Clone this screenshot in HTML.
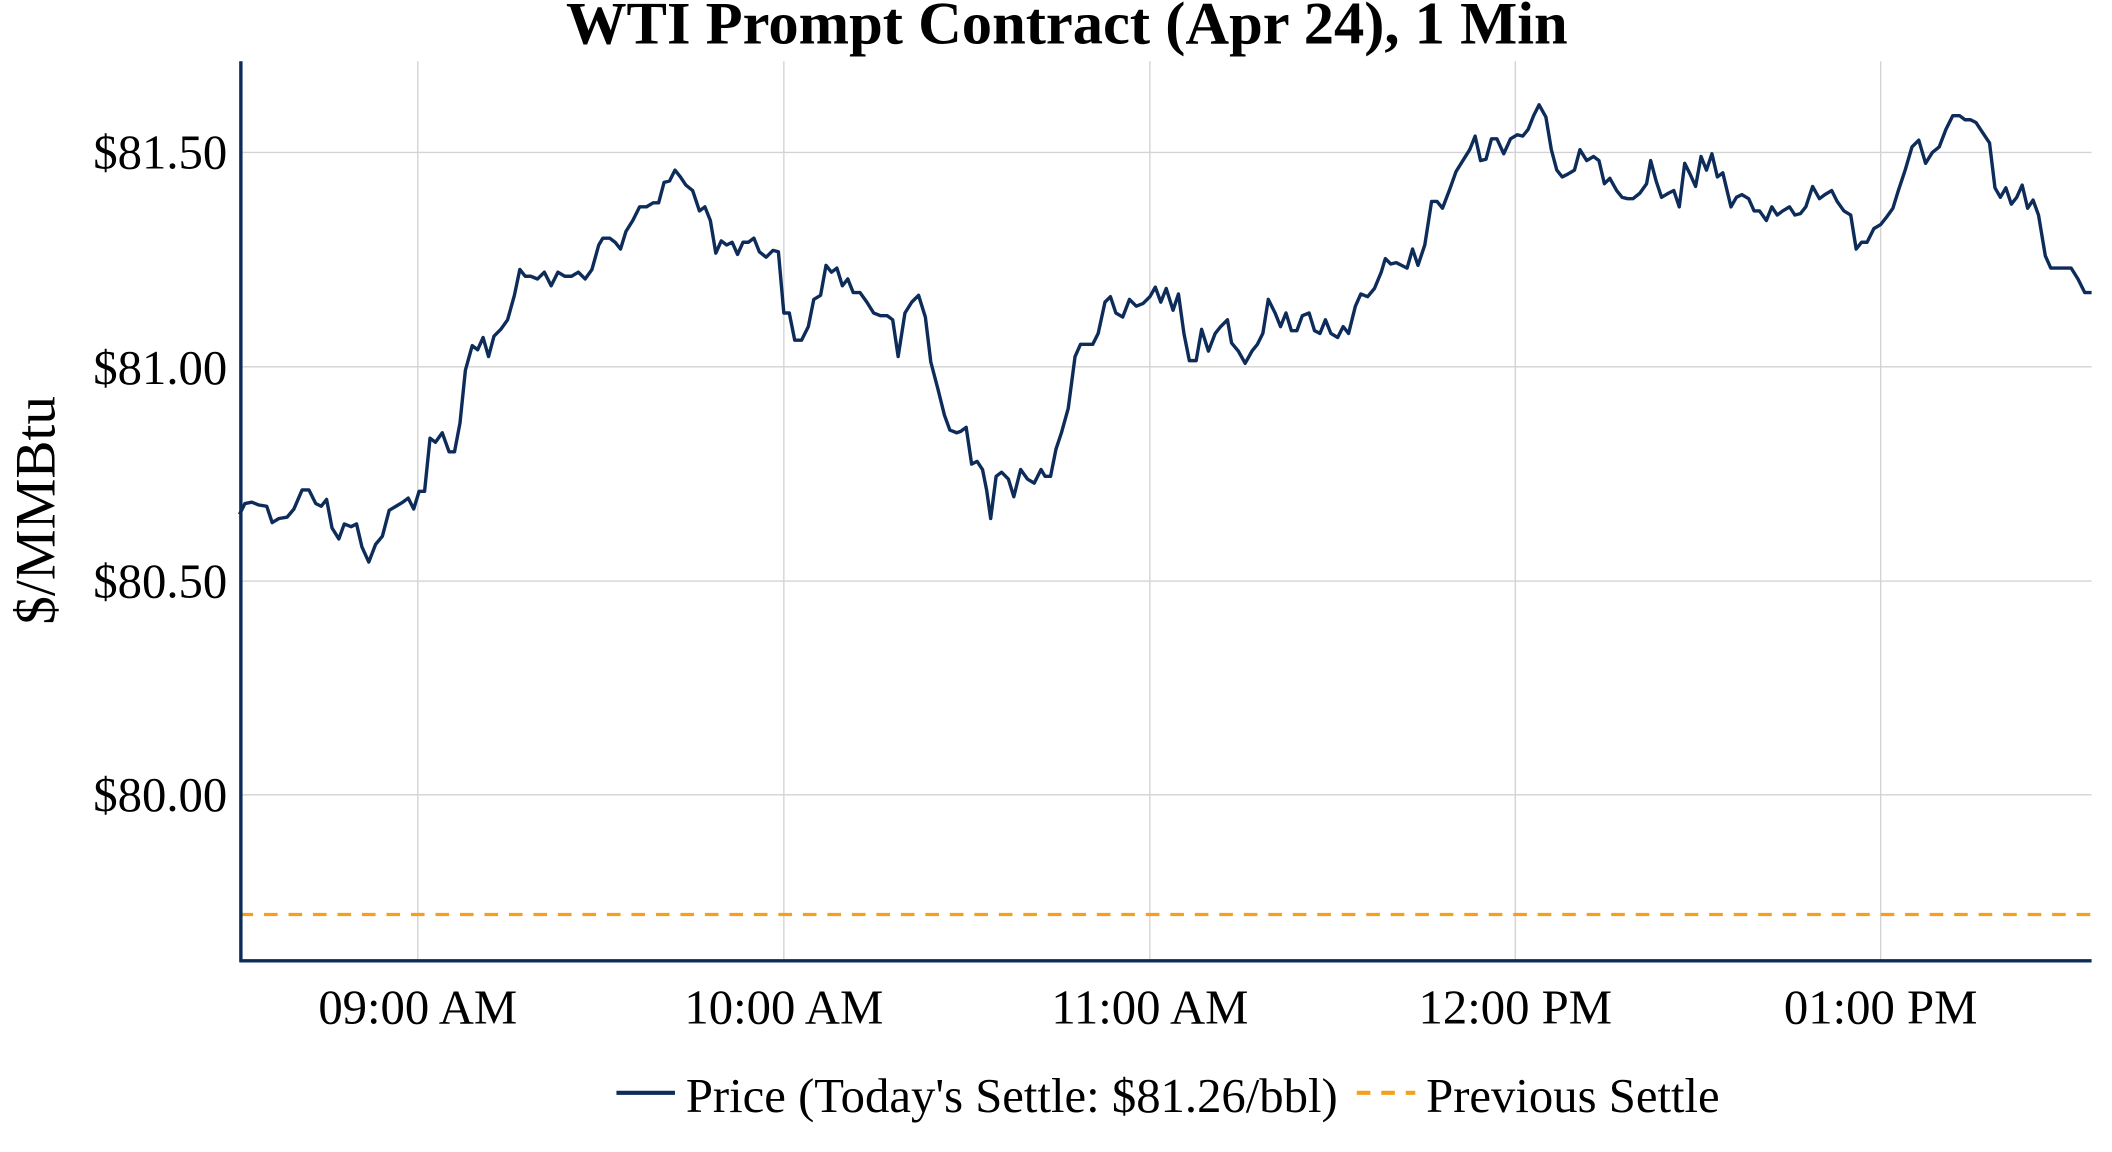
<!DOCTYPE html>
<html><head><meta charset="utf-8"><style>html,body{margin:0;padding:0;background:#fff}svg{display:block}</style></head>
<body>
<svg width="2112" height="1152" viewBox="0 0 1552 846.5" preserveAspectRatio="none" xmlns="http://www.w3.org/2000/svg" font-family="'Liberation Serif', serif">
<rect width="1552" height="846.5" fill="#fff"/>
<g stroke="#d3d3d3" stroke-width="1">
<line x1="307" y1="45" x2="307" y2="706"/><line x1="576" y1="45" x2="576" y2="706"/><line x1="845" y1="45" x2="845" y2="706"/><line x1="1113.5" y1="45" x2="1113.5" y2="706"/><line x1="1382" y1="45" x2="1382" y2="706"/>
<line x1="176" y1="112" x2="1537" y2="112"/><line x1="176" y1="269.5" x2="1537" y2="269.5"/><line x1="176" y1="427" x2="1537" y2="427"/><line x1="176" y1="584" x2="1537" y2="584"/>
</g>
<line x1="176" y1="672" x2="1537" y2="672" stroke="#f5a01a" stroke-width="2.4" stroke-dasharray="10,8"/>
<polyline fill="none" stroke="#0d2c5a" stroke-width="2.5" stroke-linejoin="round" points="176,378 180,370 185,369 190,371 196,372 200,384 205,381 211,380 216,374 222,360 227,360 232,370 236,372 240,367 244,388 249,396 253,385 258,387 262,385 266,402 271,413 276,400 281,394 286,375 291,372 296,369 300,366 304,374 308,361 312,361 316,322 320,325 325,318 330,332 334,332 338,311 342,272 347,254 351,257 355,248 359,262 363,247 368,242 373,235 378,217 382,198 386,203 390,203 395,205 400,200 405,210 410,200 415,203 420,203 425,200 430,205 435,198 440,180 443,175 448,175 452,178 456,183 460,170 465,162 470,152 475,152 480,149 484,149 488,134 492,133 496,125 500,130 504,136 509,140 514,155 518,152 522,162 526,186 530,177 534,180 538,178 542,187 546,178 550,178 554,175 558,185 563,189 568,184 572,185 576,230 580,230 584,250 589,250 594,240 598,220 603,217 607,195 611,200 615,197 619,210 623,205 627,215 632,215 637,222 642,230 647,232 652,232 656,235 660,262 665,230 670,222 675,217 680,233 684,266 689,285 694,305 698,316 703,318 706,317 710,314 714,341 718,339 722,345 725,360 728,381 732,350 736,347 741,352 745,365 750,345 755,352 760,355 765,345 768,350 772,350 776,330 780,318 785,300 790,262 794,253 798,253 803,253 807,245 812,222 816,218 820,230 825,233 830,220 835,225 840,223 845,218 849,211 853,222 857,212 862,228 866,216 870,245 874,265 879,265 883,242 888,258 893,245 897,240 902,235 905,252 910,258 915,267 920,258 924,253 928,245 932,220 937,230 941,240 945,230 949,243 953,243 957,232 962,230 966,243 970,245 974,235 978,245 983,248 987,240 991,245 996,225 1000,216 1005,218 1010,212 1015,200 1018,190 1022,194 1026,193 1030,195 1034,197 1038,183 1042,195 1047,180 1052,148 1056,148 1060,153 1065,140 1070,126 1075,118 1080,110 1084,100 1088,118 1092,117 1096,102 1100,102 1105,113 1110,102 1115,99 1119,100 1123,95 1127,85 1131,77 1136,86 1140,110 1144,125 1148,130 1152,128 1157,125 1161,110 1166,118 1171,115 1175,118 1179,135 1183,131 1188,140 1192,145 1196,146 1200,146 1205,142 1210,135 1213,118 1217,133 1221,145 1226,142 1230,140 1234,152 1238,120 1242,128 1246,137 1250,115 1254,125 1258,113 1262,130 1266,127 1272,152 1276,145 1280,143 1285,146 1289,155 1293,155 1298,162 1302,152 1306,158 1310,155 1315,152 1319,158 1323,157 1327,152 1332,137 1337,146 1341,143 1346,140 1350,148 1355,155 1360,158 1364,183 1368,178 1372,178 1377,168 1382,165 1386,160 1391,153 1395,140 1400,125 1405,108 1410,103 1415,120 1420,112 1425,108 1430,95 1435,85 1440,85 1444,88 1448,88 1452,90 1456,96 1462,105 1466,138 1470,145 1474,138 1478,150 1482,145 1486,136 1490,153 1494,147 1498,158 1503,188 1507,197 1512,197 1517,197 1522,197 1527,205 1532,215 1537,215"/>
<line x1="177" y1="45" x2="177" y2="707" stroke="#0d2c5a" stroke-width="2.5"/>
<line x1="176" y1="706" x2="1537" y2="706" stroke="#0d2c5a" stroke-width="2.5"/>
<g font-size="35.8" fill="#000" text-anchor="end">
<text x="167" y="124">$81.50</text><text x="167" y="282">$81.00</text><text x="167" y="439">$80.50</text><text x="167" y="596">$80.00</text>
</g>
<g font-size="35.8" fill="#000" text-anchor="middle">
<text x="307" y="752">09:00 AM</text><text x="576" y="752">10:00 AM</text><text x="845" y="752">11:00 AM</text><text x="1113.5" y="752">12:00 PM</text><text x="1382" y="752">01:00 PM</text>
</g>
<text transform="translate(40,375) rotate(-90)" font-size="42" text-anchor="middle">$/MMBtu</text>
<text x="784" y="32" font-size="44.5" font-weight="bold" text-anchor="middle">WTI Prompt Contract (Apr 24), 1 Min</text>
<line x1="453" y1="803" x2="496" y2="803" stroke="#0d2c5a" stroke-width="3"/>
<text x="504" y="817" font-size="35.8">Price (Today's Settle: $81.26/bbl)</text>
<line x1="997" y1="803" x2="1040" y2="803" stroke="#f5a01a" stroke-width="3" stroke-dasharray="10,8"/>
<text x="1048" y="817" font-size="35.8">Previous Settle</text>
</svg>
</body></html>
